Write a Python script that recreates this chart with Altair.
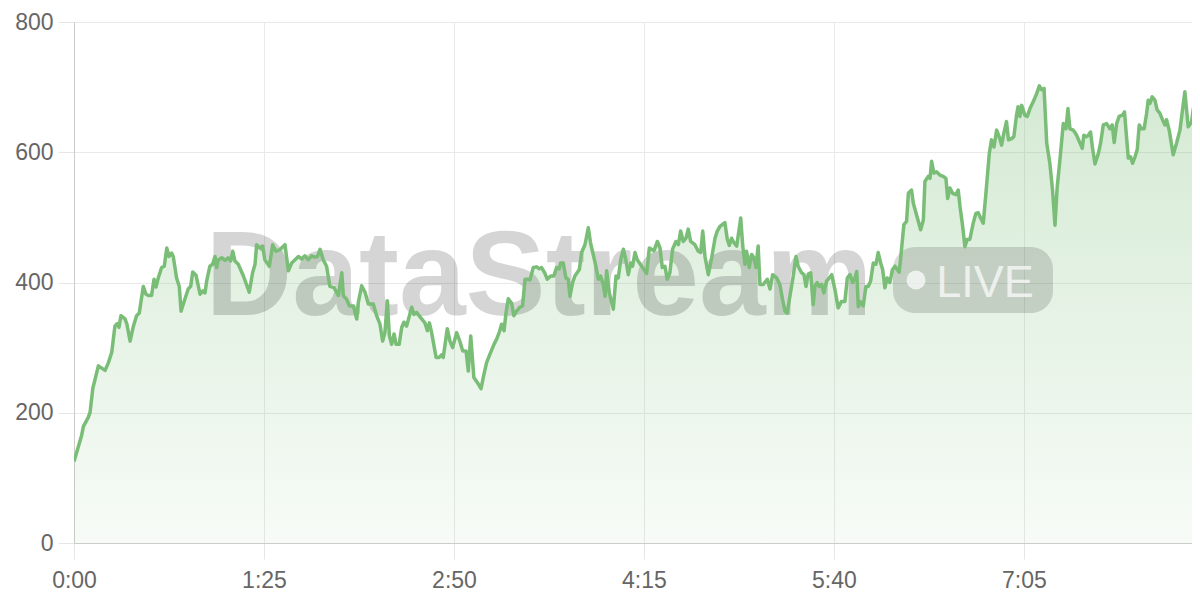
import altair as alt
import pandas as pd

# ---- data (seconds, value), in four stretches ----
t_a = [0, 3.4, 4.2, 6.4, 7.2, 8.4, 10.9, 13.9, 15.4, 16.9, 18.3, 19.4, 20.1, 21.0, 22.8, 23.6, 25.1, 26.5, 28.0, 29.2,
       31.0, 32.2, 33.3, 34.7, 35.8, 36.7, 37.7, 39.2, 40.4, 41.5, 42.5, 43.7, 44.4, 45.9, 47.1, 47.9, 48.9, 51.1, 52.2, 53.1,
       54.6, 56.4, 57.6, 58.6, 59.4, 60.8, 62.0, 63.1, 63.8, 64.6, 66.1, 67.6, 69.0, 70.1, 71.0, 72.0, 73.5, 75.8, 78.4, 79.9,
       81.0, 81.7, 83.2, 84.4, 85.4, 87.4, 88.9, 90.4, 91.9, 94.4, 95.9, 97.4, 98.9, 100.4, 101.9, 103.3, 104.8, 106.3, 107.8, 108.9,
       110.1, 111.5, 113.0, 114.5, 116.3, 118.3, 119.8, 120.5, 122.0, 123.2]
v_a = [125, 165, 179, 193, 201, 237, 272, 265, 277, 293, 333, 337, 331, 349, 344, 337, 310, 332, 349, 353,
       394, 382, 380, 380, 405, 393, 407, 423, 425, 453, 440, 445, 440, 407, 394, 356, 367, 390, 394, 416,
       411, 382, 387, 384, 403, 425, 428, 440, 423, 435, 438, 434, 438, 433, 448, 433, 428, 410, 385, 415,
       428, 458, 453, 456, 435, 425, 458, 448, 450, 458, 418, 430, 435, 440, 436, 441, 435, 441, 439, 440,
       451, 435, 425, 394, 392, 380, 415, 380, 374, 364]

t_b = [125.0, 126.5, 127.2, 128.7, 130.2, 131.7, 133.9, 135.4, 136.9, 138.1, 139.1, 140.2, 141.1, 142.1, 143.2, 144.1, 145.5, 146.6, 147.6, 148.8,
       151.1, 152.1, 153.3, 155.1, 157.0, 158.1, 159.0, 160.0, 162.0, 163.4, 164.5, 165.2, 167.0, 168.2, 169.4, 171.2, 172.7, 173.9, 175.4, 176.4,
       177.5, 178.9, 180.9, 182.1, 183.4, 184.6, 186.1, 187.9, 189.1, 190.3, 191.3, 192.4, 193.3, 194.3, 195.8, 196.8, 198.0, 199.5, 200.7, 201.8,
       202.8, 204.0, 205.5, 207.0, 208.2, 209.2, 210.7, 211.7, 213.3, 214.7, 215.9, 217.1, 217.7, 218.9, 220.1, 221.1, 221.9, 223.1, 224.1, 226.1,
       227.1, 228.6, 230.1, 231.1, 232.3, 233.5, 234.6, 235.6, 236.8, 237.6, 238.3, 239.5, 241.3, 242.5, 243.5, 244.6, 245.8, 246.9, 248.0, 249.1,
       249.9, 251.0, 252.0]
v_b = [364, 344, 369, 395, 385, 367, 367, 349, 336, 310, 323, 372, 318, 305, 321, 305, 305, 331, 339, 333,
       362, 351, 354, 346, 338, 326, 338, 323, 285, 285, 289, 285, 329, 310, 300, 323, 309, 295, 295, 264,
       318, 254, 244, 237, 259, 277, 290, 305, 313, 324, 336, 326, 354, 375, 368, 349, 356, 362, 364, 405,
       405, 404, 423, 424, 421, 423, 414, 405, 410, 410, 423, 421, 430, 430, 407, 405, 379, 400, 410, 420,
       446, 458, 484, 461, 443, 425, 405, 410, 397, 379, 418, 384, 359, 410, 407, 435, 451, 435, 412, 430,
       425, 446, 435]

t_c = [254.0, 256.2, 257.4, 258.4, 259.5, 261.0, 262.2, 263.2, 264.4, 265.4, 266.6, 267.8, 269.3, 270.4, 271.4, 272.6, 273.8, 274.8, 275.9, 277.8,
       279.3, 280.4, 281.3, 282.3, 283.8, 285.3, 286.8, 287.8, 289.0, 291.2, 292.3, 293.2, 294.2, 295.3, 296.5, 298.3, 299.2, 300.2, 300.9, 302.1,
       303.2, 304.2, 305.1, 306.1, 306.9, 308.4, 310.2, 311.4, 312.6, 314.4, 315.8, 317.0, 318.1, 319.1, 320.3, 321.8, 323.0, 324.0, 325.5, 326.6,
       327.5, 328.5, 329.6, 330.7, 331.5, 332.5, 333.4, 334.5, 335.5, 336.7, 337.9, 339.0, 340.4, 341.9, 343.4, 344.9, 346.0, 347.2, 348.4, 349.4,
       350.2, 350.9, 351.6, 353.1, 354.3, 355.3, 356.4, 357.6, 358.8, 359.8, 360.9, 361.8, 362.8, 363.8, 365.0, 366.2, 367.3, 368.3, 369.2, 370.3,
       371.3, 372.5, 373.3, 374.7, 375.5, 376.7]
v_c = [425, 414, 453, 451, 449, 463, 453, 423, 425, 405, 415, 451, 463, 458, 479, 463, 468, 482, 463, 458,
       448, 446, 479, 440, 412, 438, 468, 479, 486, 492, 466, 457, 468, 461, 456, 499, 456, 428, 448, 423,
       443, 438, 423, 456, 397, 397, 405, 390, 412, 407, 397, 374, 356, 353, 379, 410, 440, 425, 415, 412,
       394, 413, 415, 366, 394, 400, 394, 397, 384, 402, 407, 412, 390, 361, 371, 371, 407, 412, 400, 407,
       417, 363, 371, 364, 394, 394, 402, 430, 428, 446, 430, 420, 392, 407, 400, 420, 425, 420, 416, 453,
       489, 494, 537, 542, 522, 507]

t_d = [378.8, 380.0, 380.7, 382.2, 383.0, 383.7, 384.7, 385.9, 387.4, 388.9, 390.1, 390.9, 391.9, 393.1, 394.6, 395.6, 396.4, 397.6, 398.6, 399.6,
       400.8, 402.3, 403.5, 404.6, 405.6, 406.8, 408.0, 409.5, 410.5, 411.6, 412.8, 413.9, 415.0, 416.0, 417.2, 418.1, 419.5, 420.5, 421.7, 422.4,
       423.2, 424.0, 425.4, 426.5, 427.7, 429.2, 430.7, 431.9, 432.9, 434.0, 435.2, 436.6, 437.8, 438.9, 439.9, 441.1, 442.6, 443.8, 444.7, 445.6,
       447.1, 448.6, 450.1, 451.1, 451.8, 453.0, 453.8, 454.8, 455.7, 456.8, 458.3, 459.3, 460.5, 462.0, 463.5, 464.5, 465.4, 466.5, 467.6, 469.1,
       470.0, 470.9, 471.7, 472.7, 473.6, 474.7, 475.7, 476.6, 477.6, 478.8, 479.9, 480.6, 481.4, 482.4, 483.6, 484.6, 485.8, 487.0, 488.1, 488.8,
       490.0, 491.8, 493.3, 494.8, 497.0, 498.5, 500.0, 500.8, 502.0, 503.0]
v_d = [481, 496, 555, 563, 560, 586, 568, 570, 565, 563, 560, 529, 545, 537, 535, 542, 517, 486, 455, 466,
       466, 491, 506, 507, 499, 491, 537, 598, 619, 608, 634, 624, 611, 629, 647, 619, 621, 624, 657, 670,
       655, 672, 657, 655, 667, 678, 690, 702, 696, 698, 614, 583, 542, 488, 547, 588, 644, 636, 667, 636,
       634, 626, 614, 606, 626, 624, 626, 631, 606, 582, 598, 614, 642, 644, 636, 642, 615, 644, 655, 657,
       662, 624, 591, 593, 583, 593, 604, 642, 636, 636, 660, 680, 675, 685, 680, 665, 660, 650, 642, 650,
       634, 596, 614, 634, 693, 639, 647, 667, 650, 636]

x_ticks = [0, 85, 170, 255, 340, 425]
y_ticks = [0, 200, 400, 600, 800]

df = pd.DataFrame({"t": t_a + t_b + t_c + t_d, "v": v_a + v_b + v_c + v_d})

LINE = "#79bd77"
FONT = "Liberation Sans"

x_enc = alt.X("t:Q", scale=alt.Scale(domain=[0, 500.2], nice=False, zero=False),
              axis=alt.Axis(values=x_ticks, title=None,
                            labelExpr="floor(datum.value/60) + ':' + (datum.value % 60 < 10 ? '0' : '') + (datum.value % 60)",
                            labelFontSize=23, labelColor="#666666", labelFont=FONT, labelPadding=10,
                            tickSize=16, tickColor="#e6e6e6", domainColor="#cccccc",
                            gridColor="#e9e9e9", labelFlush=False))
y_enc = alt.Y("v:Q", scale=alt.Scale(domain=[0, 800], nice=False),
              axis=alt.Axis(values=y_ticks, title=None, labelFontSize=23, labelColor="#666666",
                            labelFont=FONT, labelPadding=5, tickSize=16, tickColor="#e6e6e6",
                            domainColor="#cccccc", gridColor="#e9e9e9"))

area = alt.Chart(df).mark_area(
    clip=True,
    color=alt.Gradient(gradient="linear",
                       stops=[alt.GradientStop(color="rgba(121,189,119,0.32)", offset=0),
                              alt.GradientStop(color="rgba(121,189,119,0.06)", offset=1)],
                       x1=1, x2=1, y1=0, y2=1)
).encode(x=x_enc, y=y_enc)

line = alt.Chart(df).mark_line(color=LINE, strokeWidth=3.5, strokeJoin="round", clip=True).encode(x="t:Q", y="v:Q")

wm = alt.Chart(pd.DataFrame({"label": ["DataStream"]})).mark_text(
    font=FONT, fontSize=120, fontWeight="bold", color="#000000", opacity=0.16,
    align="center", baseline="alphabetic"
).encode(x=alt.value(465), y=alt.value(293), text="label:N")

pill = alt.Chart(pd.DataFrame({"k": [1]})).mark_rect(
    color="#000000", opacity=0.14, cornerRadius=22
).encode(x=alt.value(819), x2=alt.value(979), y=alt.value(225), y2=alt.value(291))

dot = alt.Chart(pd.DataFrame({"k": [1]})).mark_circle(
    color="#ffffff", opacity=0.7, size=360
).encode(x=alt.value(842), y=alt.value(258))

live = alt.Chart(pd.DataFrame({"label": ["LIVE"]})).mark_text(
    font=FONT, fontSize=45, color="#ffffff", opacity=0.7, align="center", baseline="alphabetic"
).encode(x=alt.value(911), y=alt.value(275), text="label:N")

chart = alt.layer(area, wm, pill, dot, live, line).properties(
    width=1118, height=521,
    padding={"left": 66, "top": 14, "right": 0, "bottom": 49},
    autosize=alt.AutoSizeParams(type="none"),
).configure_view(stroke="#e9e9e9").configure(background="#ffffff")

chart.save("out.html", embed_options={"renderer": "svg", "actions": False})
